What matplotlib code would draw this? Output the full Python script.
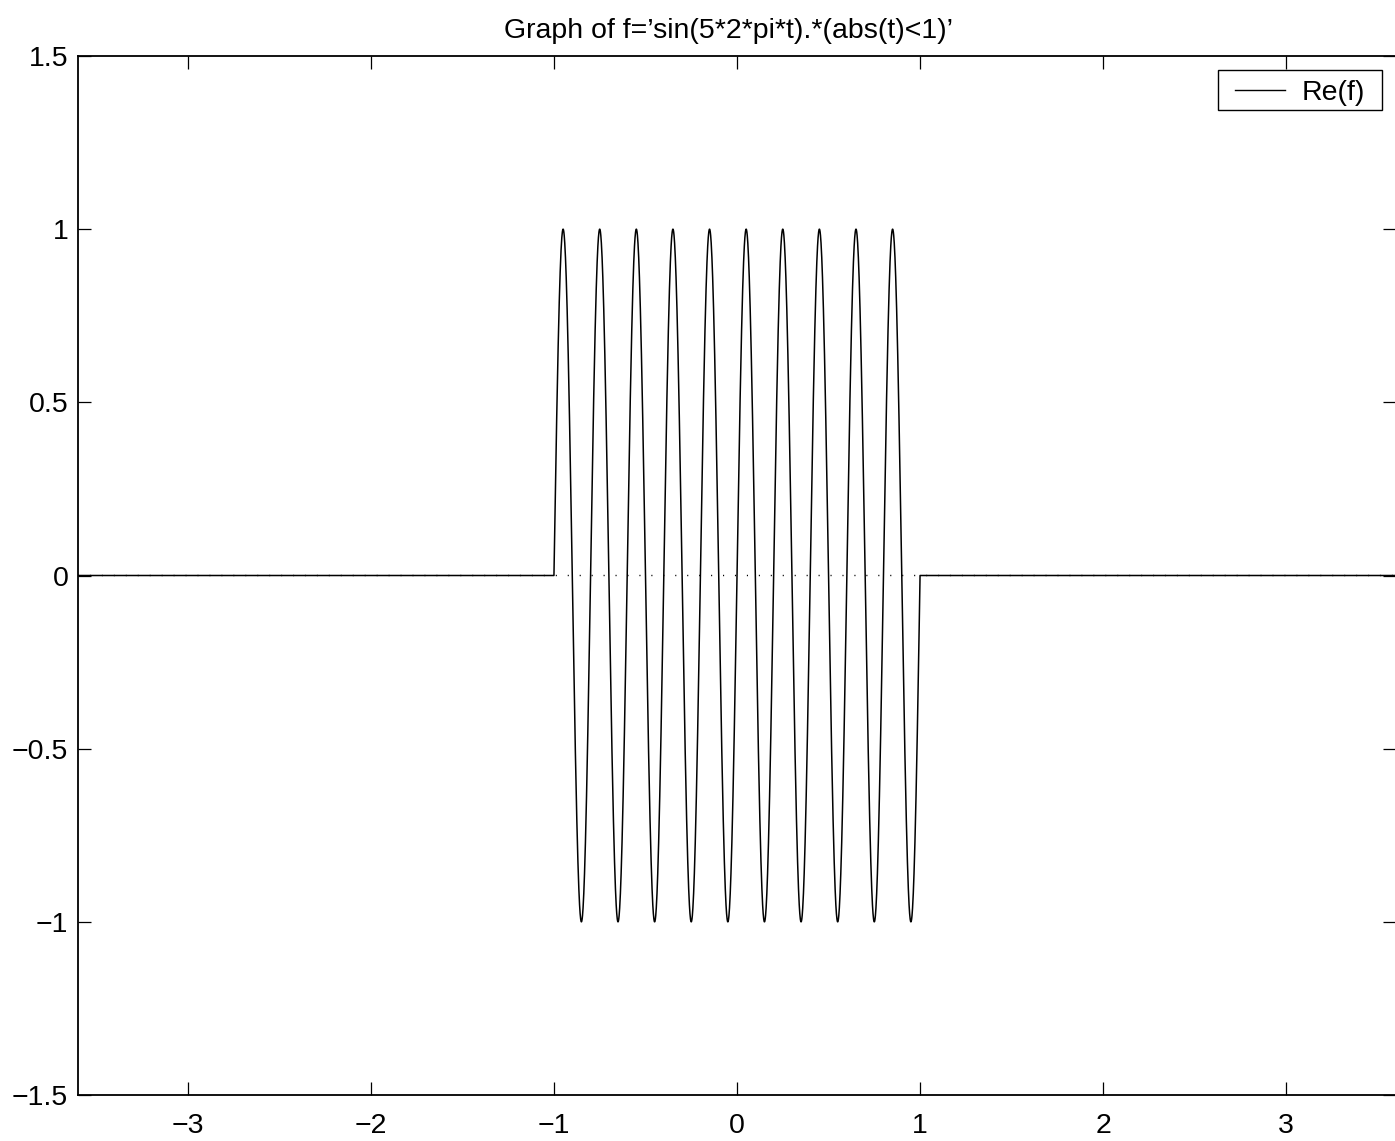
import numpy as np
import matplotlib
matplotlib.use("Agg")
import matplotlib.pyplot as plt
from matplotlib.ticker import FuncFormatter
from matplotlib.patches import Rectangle
from matplotlib.lines import Line2D

# function from the title: sin(5*2*pi*t).*(abs(t)<1)
freq = 5          # cycles per unit
half_width = 1    # window |t| < 1
t_range = [-3.6, 3.6]
x_ticks = [-3, -2, -1, 0, 1, 2, 3]
y_ticks = [-1.5, -1, -0.5, 0, 0.5, 1, 1.5]
title = "Graph of f=\u2019sin(5*2*pi*t).*(abs(t)<1)\u2019"
legend_label = "Re(f)"

t = np.linspace(t_range[0], t_range[1], 7201)
f = np.sin(freq * 2 * np.pi * t) * (np.abs(t) < half_width)
f_imag = np.zeros_like(t)  # imaginary part, drawn dotted

plt.rcParams['font.family'] = ['Liberation Sans', 'DejaVu Sans']

W, H = 1395, 1141
fig = plt.figure(figsize=(W/100, H/100), dpi=100)
ax_l, ax_t, ax_w, ax_h = 78, 56, 1318, 1039   # axes box in pixels
ax = fig.add_axes([ax_l/W, 1 - (ax_t + ax_h)/H, ax_w/W, ax_h/H])

ax.plot(t, f, color='black', lw=1.1)
ax.plot(t, f_imag, color='black', lw=1.0, dashes=(0.8, 7.8))

ax.set_xlim(t_range)
ax.set_ylim(-1.5, 1.5)
ax.set_xticks(x_ticks)
ax.set_yticks(y_ticks)
fmt = FuncFormatter(lambda v, p: ('%g' % v).replace('-', '\u2212'))
ax.xaxis.set_major_formatter(fmt)
ax.yaxis.set_major_formatter(fmt)
ax.tick_params(direction='in', length=9.5, width=0.9, top=True, right=True,
               labelsize=20.5)
ax.tick_params(axis='x', pad=13)
ax.tick_params(axis='y', pad=7)
for s in ax.spines.values():
    s.set_linewidth(1.3)

ax.set_title(title, fontsize=20.5, pad=13, x=(729 - ax_l)/ax_w)

# legend box drawn by hand (matlab style padding)
def axfrac(px, py):
    return (px - ax_l)/ax_w, 1 - (py - ax_t)/ax_h

x0, y0 = axfrac(1218, 110)
x1, y1 = axfrac(1382, 70)
ax.add_patch(Rectangle((x0, y0), x1 - x0, y1 - y0, transform=ax.transAxes,
                       facecolor='white', edgecolor='black', lw=1.0, zorder=5))
lx0, ly = axfrac(1235, 90)
lx1, _ = axfrac(1285, 90)
ax.add_line(Line2D([lx0, lx1], [ly, ly], transform=ax.transAxes, color='black',
                   lw=1.0, zorder=6))
tx, _ = axfrac(1302, 90)
ax.text(tx, ly, legend_label, transform=ax.transAxes, fontsize=20.5,
        ha='left', va='center_baseline', zorder=6)

fig.savefig('out.png', dpi=100)
